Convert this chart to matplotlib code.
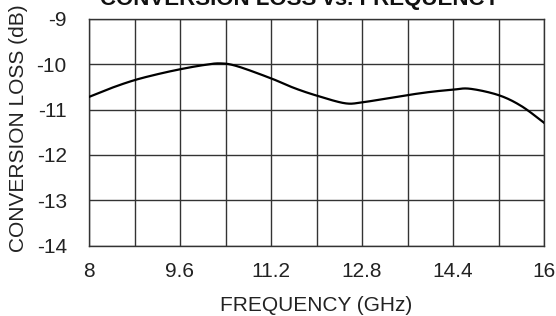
import numpy as np
import matplotlib
matplotlib.use("Agg")
import matplotlib.pyplot as plt

freq = [8.0, 8.4, 8.8, 9.2, 9.6, 10.0, 10.3, 10.6, 11.2, 11.6, 12.0, 12.5, 12.8, 13.2, 13.6, 14.0, 14.4, 14.7, 15.2, 15.6, 16.0]
loss = [-10.72, -10.52, -10.35, -10.22, -10.11, -10.02, -9.98, -10.04, -10.31, -10.52, -10.69, -10.86, -10.84, -10.76, -10.68, -10.61, -10.56, -10.54, -10.68, -10.92, -11.29]

xticks = [8, 9.6, 11.2, 12.8, 14.4, 16]
xtick_labels = ["8", "9.6", "11.2", "12.8", "14.4", "16"]
yticks = [-14, -13, -12, -11, -10, -9]
ytick_labels = ["-14", "-13", "-12", "-11", "-10", "-9"]

plt.rcParams['font.family'] = ['Liberation Sans', 'DejaVu Sans']
plt.rcParams['axes.unicode_minus'] = False

fig = plt.figure(figsize=(5.56, 3.16), dpi=100)
ax = fig.add_axes([89/556, 1-245.5/316, (544-89)/556, (245.5-19)/316])

# smooth curve (Catmull-Rom through read points)
xs = np.array(freq); ys = np.array(loss)
fine_x, fine_y = [], []
for i in range(len(xs)-1):
    p0 = i-1 if i > 0 else i
    p3 = i+2 if i+2 < len(xs) else i+1
    for t in np.linspace(0, 1, 20, endpoint=False):
        t2, t3 = t*t, t*t*t
        def cr(a):
            return 0.5*((2*a[i]) + (-a[p0]+a[i+1])*t + (2*a[p0]-5*a[i]+4*a[i+1]-a[p3])*t2 + (-a[p0]+3*a[i]-3*a[i+1]+a[p3])*t3)
        fine_x.append(cr(xs)); fine_y.append(cr(ys))
fine_x.append(xs[-1]); fine_y.append(ys[-1])

ax.plot(fine_x, fine_y, color='black', lw=1.6, zorder=3)

ax.set_xlim(8, 16)
ax.set_ylim(-14, -9)
ax.set_xticks(xticks)
ax.set_xticklabels(xtick_labels)
ax.set_xticks(np.arange(8, 16.01, 0.8), minor=True)
ax.set_yticks(yticks)
ax.set_yticklabels(ytick_labels)
ax.grid(True, which='both', color='#333333', lw=1.0)
ax.tick_params(which='both', length=0)
ax.tick_params(axis='x', pad=12, labelsize=15, colors='#222222')
ax.tick_params(axis='y', pad=16, labelsize=15, colors='#222222')
for s in ax.spines.values():
    s.set_color('#333333')
    s.set_linewidth(1.0)

ax.set_xlabel("FREQUENCY (GHz)", fontsize=15, color='#222222', labelpad=11)
fig.text(19/556, 1-128/316, "CONVERSION LOSS (dB)", rotation=90, fontsize=15,
         color='#222222', ha='center', va='center')
fig.text(300/556, 1-4.5/316, "CONVERSION LOSS vs. FREQUENCY", fontsize=16,
         fontweight='bold', ha='center', va='baseline', color='#111111')

fig.savefig("out.png", dpi=100)
